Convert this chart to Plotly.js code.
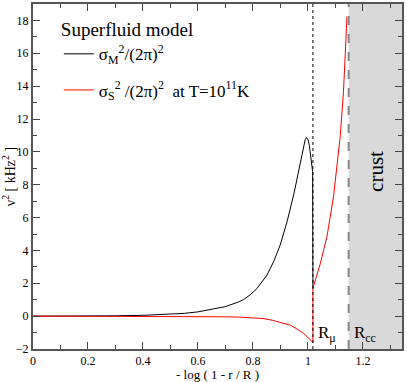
<!DOCTYPE html>
<html lang="en">
<head>
    <meta charset="UTF-8">
    <title>Superfluid model</title>
    <script src="https://cdn.plot.ly/plotly-3.0.1.min.js"></script>
    <style>
        body { margin: 0; background: white; }
        #chart { width: 407px; height: 382px; }
    </style>
</head>
<body>
    <div id="chart"></div>
    <script>
        // sigma_M^2/(2pi)^2 (black)
        const xM = [0, 0.1, 0.2, 0.3, 0.4, 0.5, 0.55, 0.6, 0.65, 0.7, 0.75, 0.765, 0.79, 0.815, 0.851, 0.875, 0.899,
                    0.924, 0.948, 0.966, 0.982, 0.99, 0.994, 1.0, 1.005, 1.012, 1.017, 1.018];
        const yM = [0, 0.0, 0.005, 0.02, 0.05, 0.1, 0.17, 0.26, 0.4, 0.58, 0.88, 1.0, 1.3, 1.69, 2.5, 3.31, 4.33,
                    5.75, 7.38, 8.8, 10.2, 10.75, 10.87, 10.75, 10.4, 9.6, 8.8, 1.7];

        // sigma_S^2/(2pi)^2 at T=10^11 K (red)
        const xS = [0, 0.2, 0.4, 0.5, 0.6, 0.7, 0.75, 0.8, 0.84, 0.87, 0.9, 0.936, 0.96, 0.984, 1.0, 1.015, 1.018,
                    1.018, 1.03, 1.045, 1.069, 1.093, 1.117, 1.129, 1.142];
        const yS = [0, 0, 0, -0.005, -0.02, -0.04, -0.06, -0.1, -0.15, -0.25, -0.37, -0.55, -0.78, -1.05, -1.3, -1.57, -1.6,
                    1.7, 2.4, 3.2, 4.84, 7.27, 10.9, 13.6, 18.25];

        // boundaries
        const rMu = 1.018;
        const rCC = 1.148;
        const xMax = 1.342;

        const serif = "Liberation Serif";

        const traces = [
            {x: xM, y: yM, mode: 'lines', line: {color: 'black', width: 1}, legendgroup: 'm',
             name: 'σ<sub>M</sub><sup>2</sup>/(2π)<sup>2</sup>'},
            {x: xS, y: yS, mode: 'lines', line: {color: 'red', width: 1}, legendgroup: 's',
             name: 'σ<sub>S</sub><sup>2</sup> /(2π)<sup>2</sup>  at T=10<sup>11</sup>K'}
        ];

        const axisStyle = {
            showline: true, linecolor: '#555', linewidth: 2, mirror: 'ticks',
            ticks: 'inside', ticklen: 7, tickcolor: '#444', tickwidth: 1,
            showgrid: false, zeroline: false,
            tickfont: {family: serif, size: 12, color: 'black'}
        };

        const layout = {
            width: 407, height: 382,
            margin: {l: 33, r: 5, t: 4, b: 33},
            paper_bgcolor: 'white', plot_bgcolor: 'white',
            font: {family: serif, color: 'black'},
            showlegend: true,
            legend: {
                x: 0.07, y: 0.978, xanchor: 'left', yanchor: 'top',
                bgcolor: 'rgba(0,0,0,0)',
                title: {text: 'Superfluid model', font: {family: serif, size: 19}},
                font: {family: serif, size: 17},
                traceorder: 'grouped',
                tracegroupgap: 11
            },
            xaxis: Object.assign({}, axisStyle, {
                range: [0, xMax], dtick: 0.2, tick0: 0,
                minor: {dtick: 0.1, ticks: 'inside', ticklen: 4, tickcolor: '#444', tickwidth: 1},
                title: {text: '- log ( 1 - r / R )', font: {family: serif, size: 13}, standoff: 3}
            }),
            yaxis: Object.assign({}, axisStyle, {
                range: [-2, 19], dtick: 2, tick0: 0,
                minor: {dtick: 1, ticks: 'inside', ticklen: 4, tickcolor: '#444', tickwidth: 1},
                title: {text: 'ν<sup>2</sup> [ kHz<sup>2</sup> ]', font: {family: serif, size: 14}, standoff: 4}
            }),
            shapes: [
                {type: 'rect', xref: 'x', yref: 'paper', x0: rCC, x1: xMax, y0: 0, y1: 1,
                 fillcolor: '#d9d9d9', line: {width: 0}, layer: 'below'},
                {type: 'line', xref: 'x', yref: 'paper', x0: rCC, x1: rCC, y0: 0, y1: 1,
                 line: {color: '#888', width: 2, dash: 'dash'}},
                {type: 'line', xref: 'x', yref: 'paper', x0: rMu, x1: rMu, y0: 0, y1: 1,
                 line: {color: 'black', width: 1, dash: 'dot'}}
            ],
            annotations: [
                {x: rMu, y: -1.1, xref: 'x', yref: 'y', xanchor: 'left', yanchor: 'middle', xshift: 3,
                 text: 'R<sub>μ</sub>', showarrow: false, font: {family: serif, size: 17}},
                {x: rCC, y: -1.1, xref: 'x', yref: 'y', xanchor: 'left', yanchor: 'middle', xshift: 3,
                 text: 'R<sub>cc</sub>', showarrow: false, font: {family: serif, size: 17}},
                {x: (rCC + xMax) / 2, y: 8.8, xref: 'x', yref: 'y', textangle: -90,
                 text: 'crust', showarrow: false, font: {family: serif, size: 21}}
            ]
        };

        Plotly.newPlot('chart', traces, layout, {displayModeBar: false});
    </script>
</body>
</html>
